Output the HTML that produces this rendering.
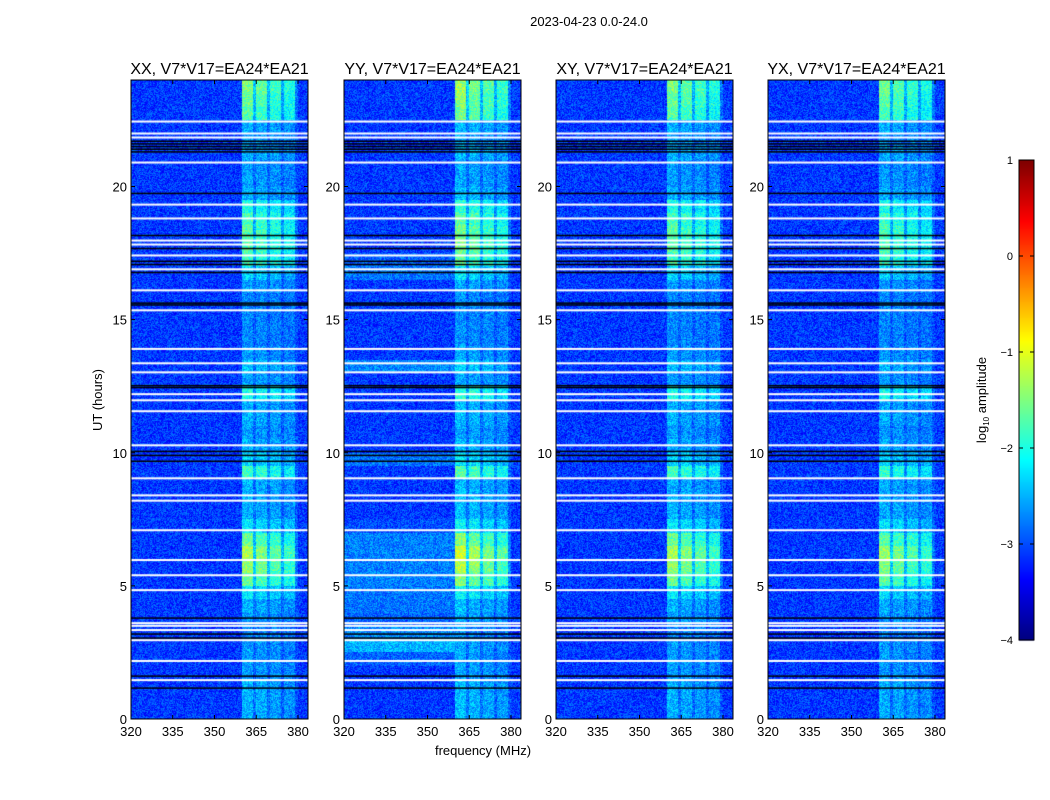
<!DOCTYPE html>
<html><head><meta charset="utf-8"><style>
html,body{margin:0;padding:0;background:#fff;}
#wrap{position:relative;width:1050px;height:800px;overflow:hidden;font-family:"Liberation Sans","DejaVu Sans",sans-serif;}
canvas,svg{position:absolute;left:0;top:0;}
</style></head><body>
<div id="wrap">
<canvas id="cv" width="1050" height="800"></canvas>
<svg id="sv" width="1050" height="800"></svg>
</div>
<script>
// ---- data ----
const panelTitles = ["XX, V7*V17=EA24*EA21","YY, V7*V17=EA24*EA21","XY, V7*V17=EA24*EA21","YX, V7*V17=EA24*EA21"];
const panelGain = [1.0, 1.1, 1.0, 0.95];
const freqTicks = [320,335,350,365,380];
const timeTicks = [0,5,10,15,20];
const cbarTicks = [-4,-3,-2,-1,0,1];
const bgLevel = -3.1;
// band log10 amplitude per half-hour bin (0..24h)
const bandLevel = [-2.5,-2.5,-2.5,-2.6,-2.6,-2.6,-2.7,-2.6,-2.5,-2.2,-1.6,-1.4,-1.3,-1.6,-2.2,-2.5,
  -2.5,-2.5,-1.8,-2.3,-2.5,-2.6,-2.5,-2.5,-2.0,-2.6,-2.4,-2.6,-2.7,-2.7,-2.7,-2.7,
  -2.6,-2.3,-1.8,-1.7,-1.7,-1.8,-2.0,-2.5,-2.6,-2.6,-2.5,-2.6,-2.5,-1.7,-1.6,-1.5];
// YY-only background offset per half-hour bin
const yyBgOffset = [0,0,0,0,0.2,0.6,0.4,0.2,0.3,0.3,0.35,0.35,0.35,0.35,0.1,0,
  0,0,0,0.3,0,0,0,0,0,0,0.4,0,0,0,0,0,
  0,0.3,0.2,0,0,0,0,0,0,0,0,0,0,0,0,0];
// frequency band weights per 1 MHz channel starting at 320 MHz
const bandWeight = [0,0,0,0,0,0,0,0,0,0, 0,0,0,0,0,0,0,0,0,0, 0,0,0,0,0,0,0,0,0,0,
  0,0,0,0,0,0,0,0,0,0, 1,1,1,1,0.45,0.9,0.9,0.9,0.9,0.4, 0.8,0.8,0.8,0.8,0.35,0.7,0.7,0.7,0.7,0.2, 0,0,0,0];
const whiteFlags = [22.44,21.99,21.84,20.9,19.32,18.8,17.97,17.82,17.41,16.89,16.1,15.35,13.9,13.36,13.02,12.2,11.97,11.56,10.28,9.04,8.4,8.2,7.09,5.97,5.4,4.84,3.6,3.5,3.34,2.96,2.18,1.46];
const blackFlags = [21.7,21.6,21.5,21.4,21.3,19.74,18.16,17.67,17.19,17.07,16.77,15.62,15.55,12.52,12.45,10.05,9.9,9.68,3.79,3.19,3.04,1.61,1.16];

// ---- layout ----
const panelX = [131,344,556,768], PW=177, PT=80, PB=719;
const F0=320, F1=383.6, T0=0, T1=24;
function xs(p,f){return panelX[p]+(f-F0)/(F1-F0)*PW;}
function ys(t){return PB-(t-T0)/(T1-T0)*(PB-PT);}
function jetRGB(v){
  const c=x=>Math.max(0,Math.min(1,x));
  return [c(1.5-Math.abs(4*v-3))*255, c(1.5-Math.abs(4*v-2))*255, c(1.5-Math.abs(4*v-1))*255];
}
function jet(v){const a=jetRGB(v);return `rgb(${a.map(Math.round).join(',')})`;}
function hash(x,y){let h=(x*374761393+y*668265263)|0;h=(h^(h>>>13))*1274126177|0;return ((h^(h>>>16))>>>0)/4294967295;}
const cv=document.getElementById('cv'), ctx=cv.getContext('2d');
for(let p=0;p<4;p++){
  const x0p=panelX[p];
  const img=ctx.createImageData(PW,PB-PT);
  for(let py=0;py<PB-PT;py++){
    const t=(PB-(PT+py+0.5))/(PB-PT)*(T1-T0)+T0;
    const i=Math.min(bandLevel.length-1,Math.max(0,Math.floor(t/0.5)));
    for(let px=0;px<PW;px++){
      const f=F0+(px+0.5)/PW*(F1-F0);
      const j=Math.floor(f-F0);
      const w=bandWeight[j]||0;
      let bg=bgLevel + (p===1 && j<40 ? yyBgOffset[i] : 0);
      let v=bg + w*(bandLevel[i]-bgLevel)*panelGain[p];
      v += (hash(px+p*1000,py)-0.5)*0.7;
      const c=jetRGB((v+4)/5);
      const k=(py*PW+px)*4;
      img.data[k]=c[0];img.data[k+1]=c[1];img.data[k+2]=c[2];img.data[k+3]=255;
    }
  }
  ctx.putImageData(img,x0p,PT);
  ctx.fillStyle='#fff';
  whiteFlags.forEach(h=>ctx.fillRect(panelX[p],ys(h)-1,PW,2));
  ctx.fillStyle='#000';
  blackFlags.forEach(h=>ctx.fillRect(panelX[p],ys(h)-0.75,PW,1.5));
}
// colorbar
const CX=1019,CW=15,CT=160,CB=640;
for(let k=0;k<240;k++){
  ctx.fillStyle=jet(k/239);
  ctx.fillRect(CX,CB-(k+1)*(CB-CT)/240,CW,(CB-CT)/240+0.5);
}
// ---- svg ----
const NS='http://www.w3.org/2000/svg', sv=document.getElementById('sv');
function el(tag,attrs,txt){const e=document.createElementNS(NS,tag);for(const k in attrs)e.setAttribute(k,attrs[k]);if(txt!==undefined)e.textContent=txt;sv.appendChild(e);return e;}
let e=el('text',{x:589,y:26,'font-size':13,'text-anchor':'middle'},'2023-04-23 0.0-24.0');


for(let p=0;p<4;p++){
  e=el('rect',{x:panelX[p],y:PT,width:PW,height:PB-PT,fill:'none',stroke:'#000','stroke-width':1});
  
  
  e=el('text',{x:panelX[p]+PW/2,y:74,'font-size':16,'text-anchor':'middle'},panelTitles[p]);
  
  
  freqTicks.forEach(f=>{
    const x=xs(p,f);
    e=el('path',{d:`M${x},${PB}v-4M${x},${PT}v4`,stroke:'#000'});
    
    
    e=el('text',{x:x,y:736,'font-size':13,'text-anchor':'middle'},String(f));
    
    
  });
  timeTicks.forEach(t=>{
    const y=ys(t);
    e=el('path',{d:`M${panelX[p]},${y}h4M${panelX[p]+PW},${y}h-4`,stroke:'#000'});
    
    
    e=el('text',{x:panelX[p]-4,y:y+5,'font-size':13,'text-anchor':'end'},String(t));
    
    
  });
}
e=el('text',{x:102,y:400,'font-size':13,'text-anchor':'middle',transform:'rotate(-90 102 400)'},'UT (hours)');


e=el('text',{x:483,y:755,'font-size':13,'text-anchor':'middle'},'frequency (MHz)');


e=el('rect',{x:CX,y:CT,width:CW,height:CB-CT,fill:'none',stroke:'#000'});


cbarTicks.forEach(v=>{
  const y=CB-(v+4)/5*(CB-CT);
  e=el('path',{d:`M${CX},${y}h4M${CX+CW},${y}h-4`,stroke:'#000'});
  
  
  e=el('text',{x:1013,y:y+4,'font-size':11,'text-anchor':'end'},(v<0?'\u2212':'')+Math.abs(v));
  
  
});
e=el('text',{x:986,y:400,'font-size':13,'text-anchor':'middle',transform:'rotate(-90 986 400)'});


const t1=document.createElementNS(NS,'tspan');t1.textContent='log';e.appendChild(t1);
const t2=document.createElementNS(NS,'tspan');t2.setAttribute('font-size','8');t2.setAttribute('dy','3');t2.textContent='10';e.appendChild(t2);
const t3=document.createElementNS(NS,'tspan');t3.setAttribute('dy','-3');t3.textContent=' amplitude';e.appendChild(t3);
</script>
</body></html>
